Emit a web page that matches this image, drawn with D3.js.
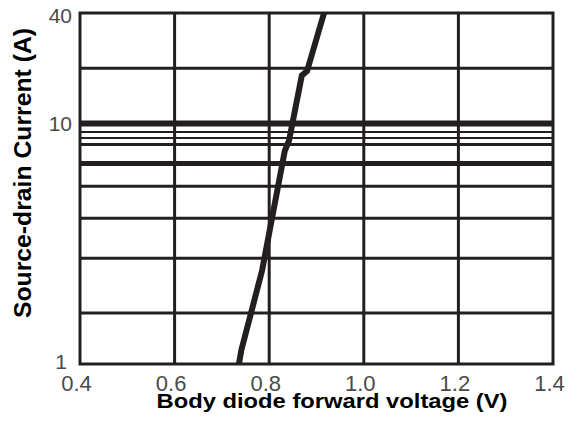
<!DOCTYPE html>
<html>
<head>
<meta charset="utf-8">
<script src="https://cdn.jsdelivr.net/npm/d3@7"></script>
<style>
    body { margin: 0; background: #fff; }
    svg { display: block; }
</style>
</head>
<body>
<script>
// x ticks (V)
const voltTicks = [0.4, 0.6, 0.8, 1.0, 1.2, 1.4];
// labelled current ticks (A)
const currentTicks = [1, 10, 40];
// horizontal grid lines as drawn on the sheet (A)
const gridCurrent = [1.63, 2.75, 4.04, 5.48, 8.18, 8.71, 9.22, 20];
// heavier grid lines
const heavyGridCurrent = [6.82, 10];
// body diode curve
const curveVoltage = [0.736, 0.741, 0.785, 0.833, 0.842, 0.869, 0.880, 0.916];
const curveCurrent = [1, 1.14, 2.45, 7.7, 8.5, 18.3, 19.3, 40];

const width = 580, height = 421;
const margin = { top: 13, right: 27, bottom: 57, left: 80 };
const ink = "#231f20";

const svg = d3.select("body").append("svg").attr("width", width).attr("height", height);

const x = d3.scaleLinear().domain([0.4, 1.4]).range([margin.left, width - margin.right]);
// the sheet's log axis is not even: 1..10 and 10..40 are scaled separately
const y = d3.scaleLog().domain([1, 10, 40]).range([height - margin.bottom, 123.5, margin.top]);

// grid
{
    const grid = svg.append("g").attr("class", "grid").attr("stroke", ink);

    grid.selectAll("line.h")
        .data(gridCurrent)
        .enter()
        .append("line")
        .attr("class", "h")
        .attr("x1", x(0.4))
        .attr("x2", x(1.4))
        .attr("y1", (d) => y(d))
        .attr("y2", (d) => y(d))
        .attr("stroke-width", (d) => (d > 8.5 && d < 10 ? 2 : 3));

    grid.selectAll("line.hh")
        .data(heavyGridCurrent)
        .enter()
        .append("line")
        .attr("class", "hh")
        .attr("x1", x(0.4))
        .attr("x2", x(1.4))
        .attr("y1", (d) => y(d))
        .attr("y2", (d) => y(d))
        .attr("stroke-width", (d) => (d === 10 ? 6 : 5));

    grid.selectAll("line.v")
        .data(voltTicks.slice(1, -1))
        .enter()
        .append("line")
        .attr("class", "v")
        .attr("x1", (d) => x(d))
        .attr("x2", (d) => x(d))
        .attr("y1", y(40))
        .attr("y2", y(1))
        .attr("stroke-width", 3);

    grid.append("rect")
        .attr("x", x(0.4))
        .attr("y", y(40))
        .attr("width", x(1.4) - x(0.4))
        .attr("height", y(1) - y(40))
        .attr("fill", "none")
        .attr("stroke-width", 3);
}

// curve
{
    svg.append("clipPath")
        .attr("id", "plot")
        .append("rect")
        .attr("x", x(0.4))
        .attr("y", y(40))
        .attr("width", x(1.4) - x(0.4))
        .attr("height", y(1) - y(40));

    const line = d3.line()
        .x((d) => x(d[0]))
        .y((d) => y(d[1]));

    svg.append("path")
        .datum(d3.zip(curveVoltage, curveCurrent))
        .attr("clip-path", "url(#plot)")
        .attr("d", line)
        .attr("fill", "none")
        .attr("stroke", ink)
        .attr("stroke-width", 6);
}

// axes (labels only)
{
    const xAxis = svg.append("g")
        .attr("transform", `translate(0,${y(1)})`)
        .call(d3.axisBottom(x).tickValues(voltTicks).tickFormat(d3.format(".1f")).tickSize(0).tickPadding(11));

    const yAxis = svg.append("g")
        .attr("transform", `translate(${x(0.4)},0)`)
        .call(d3.axisLeft(y).tickValues(currentTicks).tickFormat(d3.format("d")).tickSize(0).tickPadding(8));

    [xAxis, yAxis].forEach((a) => {
        a.select(".domain").remove();
        a.selectAll("text")
            .attr("font-family", "'Liberation Sans', Arial, sans-serif")
            .attr("font-size", 21)
            .attr("fill", "#4a4a4a");
    });
    xAxis.selectAll("text").attr("font-size", 22).attr("dx", -4);
    // keep end labels inside the frame
    yAxis.selectAll("text")
        .attr("dy", (d) => (d === 40 ? "0.45em" : d === 1 ? "0.2em" : "0.32em"))
        .attr("dx", (d) => (d === 1 ? -5 : 0));
}

// titles
{
    svg.append("text")
        .text("Body diode forward voltage (V)")
        .attr("x", 332)
        .attr("y", 408)
        .attr("text-anchor", "middle")
        .attr("font-family", "'Liberation Sans', Arial, sans-serif")
        .attr("font-weight", "bold")
        .attr("font-size", 21)
        .attr("textLength", 351)
        .attr("lengthAdjust", "spacingAndGlyphs");

    svg.append("text")
        .text("Source-drain Current (A)")
        .attr("transform", "translate(31,173) rotate(-90)")
        .attr("text-anchor", "middle")
        .attr("font-family", "'Liberation Sans', Arial, sans-serif")
        .attr("font-weight", "bold")
        .attr("font-size", 23)
        .attr("textLength", 290)
        .attr("lengthAdjust", "spacingAndGlyphs");
}
</script>
</body>
</html>
